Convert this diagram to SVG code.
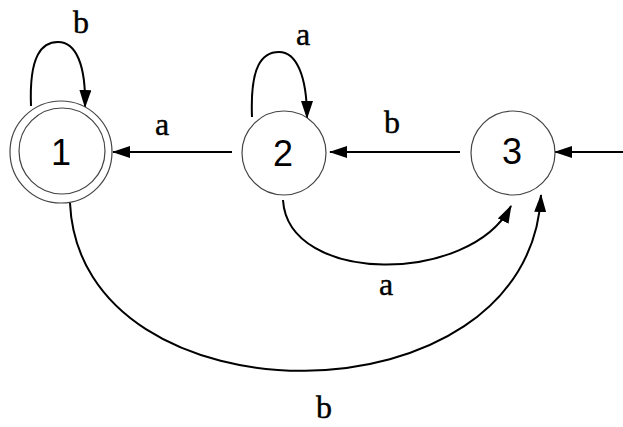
<svg xmlns="http://www.w3.org/2000/svg" width="623" height="427" viewBox="0 0 623 427">
<defs>
<marker id="ah" markerUnits="userSpaceOnUse" markerWidth="18" markerHeight="12" viewBox="0 0 18 12" refX="17" refY="6" orient="auto"><path d="M0,0 L18,6 L0,12 z" fill="#000"/></marker>
<style>
.st{fill:#fff;stroke:#444;stroke-width:1.2}
.num{font-family:"Liberation Sans",Arial,sans-serif;font-size:36px;text-anchor:middle;fill:#000}
.lbl{font-family:"Liberation Serif","Times New Roman",serif;font-size:32px;text-anchor:middle;fill:#000;stroke:#000;stroke-width:0.4}
.e{fill:none;stroke:#000;stroke-width:2;marker-end:url(#ah)}
</style>
</defs>
<rect width="623" height="427" fill="#fff"/>
<g id="connectors">
<path class="e" d="M232,152 L113,152"/>
<path class="e" d="M460,152 L330,152"/>
<path class="e" d="M623,152 L555,152"/>
<path class="e" d="M31,106 C29,55 42,42 58,42 C76,42 86,65 85,107"/>
<path class="e" d="M252,117 C250,66 262,52 279,52 C296,52 307,75 307,118"/>
<path class="e" d="M283,200 C288,285 470,285 511,206"/>
<path class="e" d="M70,203 C80,428 530,428 541,195"/>
<text class="lbl" x="81" y="33">b</text>
<text class="lbl" x="303" y="45">a</text>
<text class="lbl" x="162" y="135">a</text>
<text class="lbl" x="392" y="133">b</text>
<text class="lbl" x="386" y="295">a</text>
<text class="lbl" x="324" y="418">b</text>
</g>
<g id="node1">
<circle class="st" cx="61" cy="152" r="51"/>
<circle class="st" cx="62" cy="151" r="43"/>
<text class="num" x="61" y="165">1</text>
</g>
<g id="node2">
<circle class="st" cx="284" cy="153" r="42"/>
<text class="num" x="283" y="166">2</text>
</g>
<g id="node3">
<circle class="st" cx="513" cy="153" r="42"/>
<text class="num" x="512" y="164">3</text>
</g>
</svg>
